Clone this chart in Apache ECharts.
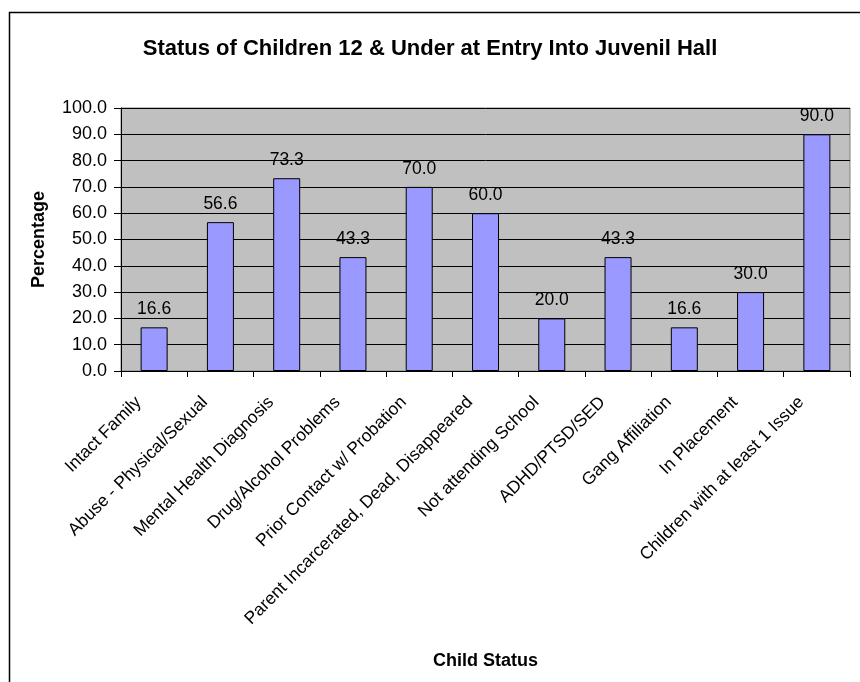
<!DOCTYPE html>
<html>
<head>
<meta charset="utf-8">
<script src="https://cdn.jsdelivr.net/npm/echarts@6/dist/echarts.min.js"></script>
<style>
html,body{margin:0;padding:0;background:#fff;}
#chart{width:860px;height:682px;}
</style>
</head>
<body>
<div id="chart"></div>
<script>
var titleText = 'Status of Children 12 & Under at Entry Into Juvenil Hall';
var xAxisName = 'Child Status';
var yAxisName = 'Percentage';
var categories = ['Intact Family', 'Abuse - Physical/Sexual', 'Mental Health Diagnosis', 'Drug/Alcohol Problems', 'Prior Contact w/ Probation', 'Parent Incarcerated, Dead, Disappeared', 'Not attending School', 'ADHD/PTSD/SED', 'Gang Affiliation', 'In Placement', 'Children with at least 1 Issue'];
var values = [16.6, 56.6, 73.3, 43.3, 70.0, 60.0, 20.0, 43.3, 16.6, 30.0, 90.0];
var yMin = 0, yMax = 100, yStep = 10;

var FONT = '"Liberation Sans", Arial, sans-serif';
var chart = echarts.init(document.getElementById('chart'), null, {renderer: 'canvas'});
chart.setOption({
  animation: false,
  backgroundColor: '#ffffff',
  textStyle: {fontFamily: FONT},
  graphic: [{
    type: 'rect', left: 7, top: 10, z: -10,
    shape: {width: 900, height: 720},
    style: {fill: 'none', stroke: '#000', lineWidth: 1.5}
  }],
  title: {
    text: titleText, left: 'center', top: 33,
    textStyle: {fontFamily: FONT, fontSize: 22, fontWeight: 'bold', color: '#000'}
  },
  grid: {
    left: 121, right: 10, top: 108, bottom: 311,
    show: true, backgroundColor: '#C0C0C0', borderColor: '#808080', borderWidth: 1
  },
  xAxis: {
    type: 'category', data: categories, boundaryGap: true,
    name: xAxisName, nameLocation: 'middle', nameGap: 281,
    nameTextStyle: {fontFamily: FONT, fontSize: 18, fontWeight: 'bold', color: '#000'},
    axisLine: {lineStyle: {color: '#000', width: 1}},
    axisTick: {show: true, length: 6, lineStyle: {color: '#000'}},
    axisLabel: {interval: 0, rotate: 45, margin: 13, padding: [0, 22, 0, 0],
      fontFamily: FONT, fontSize: 17.5, color: '#000'},
    splitLine: {show: false}
  },
  yAxis: {
    type: 'value', min: yMin, max: yMax, interval: yStep,
    name: yAxisName, nameLocation: 'middle', nameGap: 73,
    nameTextStyle: {fontFamily: FONT, fontSize: 18, fontWeight: 'bold', color: '#000'},
    axisLine: {show: true, lineStyle: {color: '#000', width: 1}},
    axisTick: {show: true, length: 7, lineStyle: {color: '#000'}},
    axisLabel: {margin: 14, fontFamily: FONT, fontSize: 18, color: '#000',
      formatter: function (v) { return v.toFixed(1); }},
    splitLine: {show: true, lineStyle: {color: '#000', width: 1}}
  },
  series: [{
    type: 'bar', data: values, barWidth: 27,
    itemStyle: {color: '#9999FF', borderColor: '#000', borderWidth: 1},
    label: {show: true, position: 'top', distance: 9, fontFamily: FONT, fontSize: 17.5, color: '#000',
      formatter: function (p) { return p.value.toFixed(1); }}
  }]
});
</script>
</body>
</html>
